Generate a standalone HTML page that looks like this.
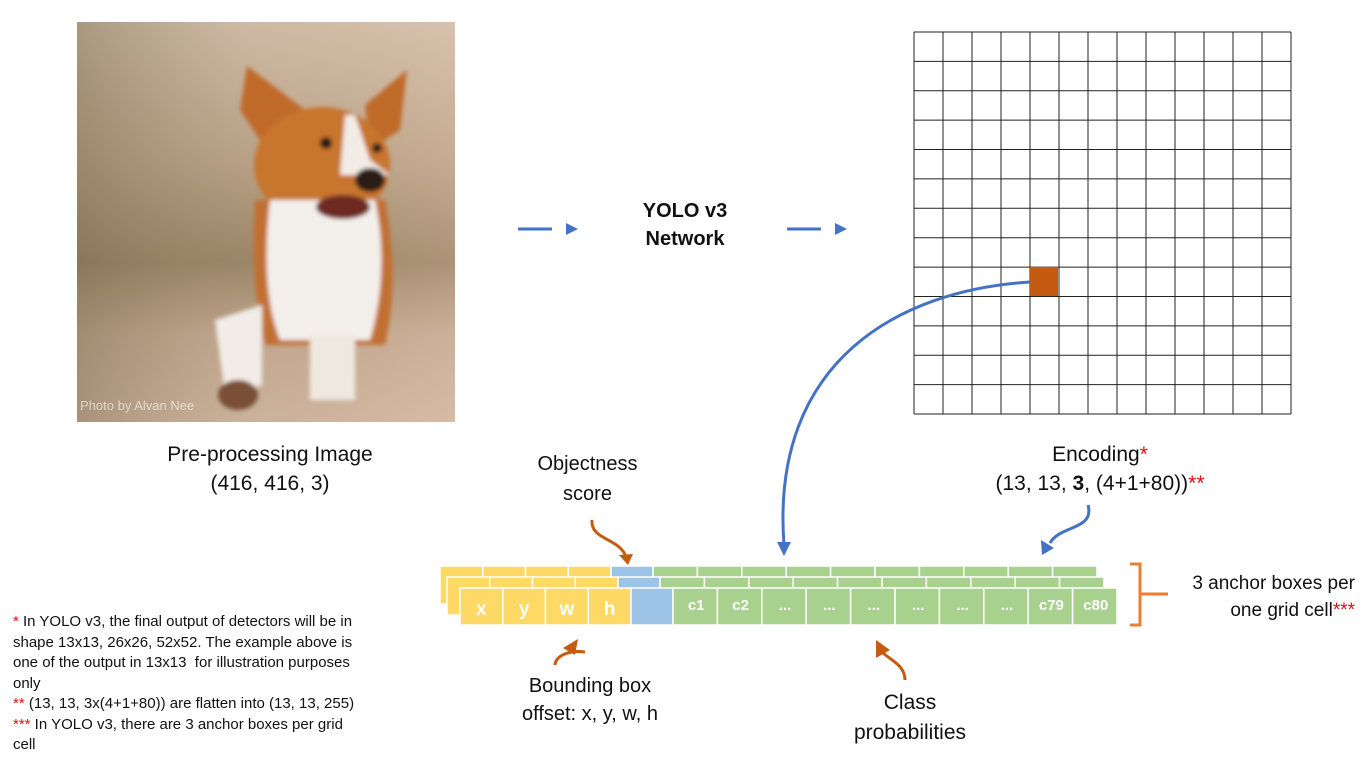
<!DOCTYPE html>
<html><head><meta charset="utf-8"><style>
body{margin:0;width:1366px;height:768px;background:#fff;position:relative;overflow:hidden;font-family:"Liberation Sans",Calibri,sans-serif;color:#111}
.t{position:absolute;text-align:center;white-space:nowrap}
.r{color:#e01010}
</style></head><body>
<svg width="1366" height="768" style="position:absolute;left:0;top:0">
<defs>
<linearGradient id="bg" x1="0" y1="0" x2="0" y2="1">
<stop offset="0" stop-color="#d9c6b3"/><stop offset="0.35" stop-color="#bda68c"/><stop offset="0.6" stop-color="#9a8466"/><stop offset="0.78" stop-color="#c8ad97"/><stop offset="1" stop-color="#d6bca8"/></linearGradient>
<linearGradient id="bg2" x1="0" y1="0" x2="1" y2="0">
<stop offset="0" stop-color="#7a6a4c" stop-opacity="0.5"/><stop offset="0.45" stop-color="#a08a6c" stop-opacity="0.2"/><stop offset="1" stop-color="#d8b89e" stop-opacity="0.3"/></linearGradient>
<filter id="bl"><feGaussianBlur stdDeviation="2"/></filter>
</defs>
<rect x="77" y="22" width="378" height="400" fill="url(#bg)"/>
<rect x="77" y="22" width="378" height="400" fill="url(#bg2)"/>
<g filter="url(#bl)">
<polygon points="247,66 240,110 270,155 305,110" fill="#c06a2a"/>
<polygon points="407,70 365,105 370,150 400,130" fill="#c06a2a"/>
<ellipse cx="322" cy="165" rx="68" ry="58" fill="#c8752f"/>
<polygon points="345,115 355,115 370,160 390,175 340,175" fill="#f2ece6"/>
<path d="M255 200 Q250 290 265 345 L385 345 Q400 280 385 200 Z" fill="#c27030"/>
<path d="M270 200 Q260 290 280 340 L370 340 Q390 270 375 200 Z" fill="#f3efea"/>
<path d="M215 320 L262 305 L262 385 L225 395 Z" fill="#f1ece6"/>
<ellipse cx="238" cy="395" rx="20" ry="15" fill="#7a5038"/>
<rect x="310" y="335" width="45" height="65" fill="#efe8e0"/>
<ellipse cx="370" cy="180" rx="15" ry="12" fill="#2a1a14"/>
<ellipse cx="343" cy="207" rx="27" ry="12" fill="#6e2a22"/>
<circle cx="326" cy="143" r="6" fill="#2a1a14"/>
<circle cx="377" cy="148" r="5" fill="#2a1a14"/>
</g>
<text x="80" y="410" font-size="13" fill="#ffffff" fill-opacity="0.6" font-family="Liberation Sans">Photo by Alvan Nee</text>
<g stroke="#4472c4" stroke-width="3"><line x1="518" y1="229" x2="552" y2="229"/><line x1="787" y1="229" x2="821" y2="229"/></g>
<polygon points="566,223 578,229 566,235" fill="#4472c4"/>
<polygon points="835,223 847,229 835,235" fill="#4472c4"/>
<g stroke="#222" stroke-width="1" fill="none" id="grid"></g>
<rect x="1030" y="267" width="28" height="29" fill="#c55a11"/>
<path d="M1030 282 C 900 290, 770 360, 784 545" stroke="#4472c4" stroke-width="3" fill="none"/>
<polygon points="777,542 791,542 784,556" fill="#4472c4"/>
<path d="M1088 505 C 1095 530, 1060 525, 1050 543" stroke="#4472c4" stroke-width="3" fill="none"/>
<polygon points="1041,540 1054,548 1042,555" fill="#4472c4"/>
<path d="M592 520 C 590 540, 620 538, 626 557" stroke="#c55a11" stroke-width="3" fill="none"/>
<polygon points="619,555 633,554 628,565" fill="#c55a11"/>
<path d="M585 652 C 570 650, 556 655, 555 665" stroke="#c55a11" stroke-width="3" fill="none"/>
<polygon points="563,648 578,639 575,655" fill="#c55a11"/>
<path d="M905 680 C 905 665, 890 660, 882 652" stroke="#c55a11" stroke-width="3" fill="none"/>
<polygon points="876,640 890,650 876,658" fill="#c55a11"/>
<path d="M1130 564 L1140 564 L1140 625 L1130 625 M1140 594 L1168 594" stroke="#ed7d31" stroke-width="3" fill="none"/>
<g id="boxes"></g>
</svg>
<div class="t" style="left:600px;top:197px;width:170px;font-weight:bold;font-size:20px;line-height:28px">YOLO v3<br>Network</div>
<div class="t" style="left:120px;top:440px;width:300px;font-size:21px;line-height:29px">Pre-processing Image<br>(416, 416, 3)</div>
<div class="t" style="left:950px;top:440px;width:300px;font-size:21px;line-height:29px">Encoding<span class="r">*</span><br>(13, 13, <b>3</b>, (4+1+80))<span class="r">**</span></div>
<div class="t" style="left:500px;top:449px;width:175px;font-size:20px;line-height:30px">Objectness<br>score</div>
<div class="t" style="left:500px;top:672px;width:180px;font-size:20px;line-height:28px">Bounding box<br>offset: x, y, w, h</div>
<div class="t" style="left:820px;top:688px;width:180px;font-size:21px;line-height:30px">Class<br>probabilities</div>
<div class="t" style="left:1155px;top:570px;width:200px;font-size:19px;line-height:27px;text-align:right">3 anchor boxes per<br>one grid cell<span class="r">***</span></div>
<div style="position:absolute;left:13px;top:612px;white-space:nowrap;font-size:15px;line-height:20.5px"><span class="r">*</span> In YOLO v3, the final output of detectors will be in<br>shape 13x13, 26x26, 52x52. The example above is<br>one of the output in 13x13&nbsp; for illustration purposes<br>only<br><span class="r">**</span> (13, 13, 3x(4+1+80)) are flatten into (13, 13, 255)<br><span class="r">***</span> In YOLO v3, there are 3 anchor boxes per grid<br>cell</div>
<script>
var ns="http://www.w3.org/2000/svg",g=document.getElementById("grid");
for(var i=0;i<=13;i++){var x=914+i*377/13,y=32+i*382/13;
var l=document.createElementNS(ns,"line");l.setAttribute("x1",x);l.setAttribute("x2",x);l.setAttribute("y1",32);l.setAttribute("y2",414);g.appendChild(l);
l=document.createElementNS(ns,"line");l.setAttribute("y1",y);l.setAttribute("y2",y);l.setAttribute("x1",914);l.setAttribute("x2",1291);g.appendChild(l);}
var b=document.getElementById("boxes");
function rect(x,y,w,h,f){var r=document.createElementNS(ns,"rect");r.setAttribute("x",x);r.setAttribute("y",y);r.setAttribute("width",w);r.setAttribute("height",h);r.setAttribute("fill",f);r.setAttribute("stroke","#fff");r.setAttribute("stroke-width","1.5");b.appendChild(r);}
function txt(x,y,s){var t=document.createElementNS(ns,"text");t.setAttribute("x",x);t.setAttribute("y",y);t.setAttribute("fill","#fff");t.setAttribute("font-weight","bold");t.setAttribute("text-anchor","middle");t.setAttribute("font-size",s.length>1?"15":"19");t.setAttribute("font-family","Liberation Sans");t.textContent=s;b.appendChild(t);}
var Y="#ffd966",B="#9dc3e6",G="#a9d18e";
var rows=[[440,566],[447,577],[460,588]];
rows.forEach(function(r,ri){var x0=r[0],y0=r[1],h=ri==2?37:38;var yw=(631-460)/4,gw=(1118-674)/10;
for(var i=0;i<4;i++)rect(x0+i*yw,y0,yw,h,Y);rect(x0+4*yw,y0,42,h,B);
var gx=x0+4*yw+42;for(var i=0;i<10;i++)rect(gx+i*gw,y0,gw,h,G);});
var L=["c1","c2","...","...","...","...","...","...","c79","c80"],yl=["x","y","w","h"];
for(var i=0;i<4;i++)txt(460+(i+0.5)*42.75,615,yl[i]);
for(var i=0;i<10;i++)txt(674+(i+0.5)*44.4,610,L[i]);
</script>
</body></html>
